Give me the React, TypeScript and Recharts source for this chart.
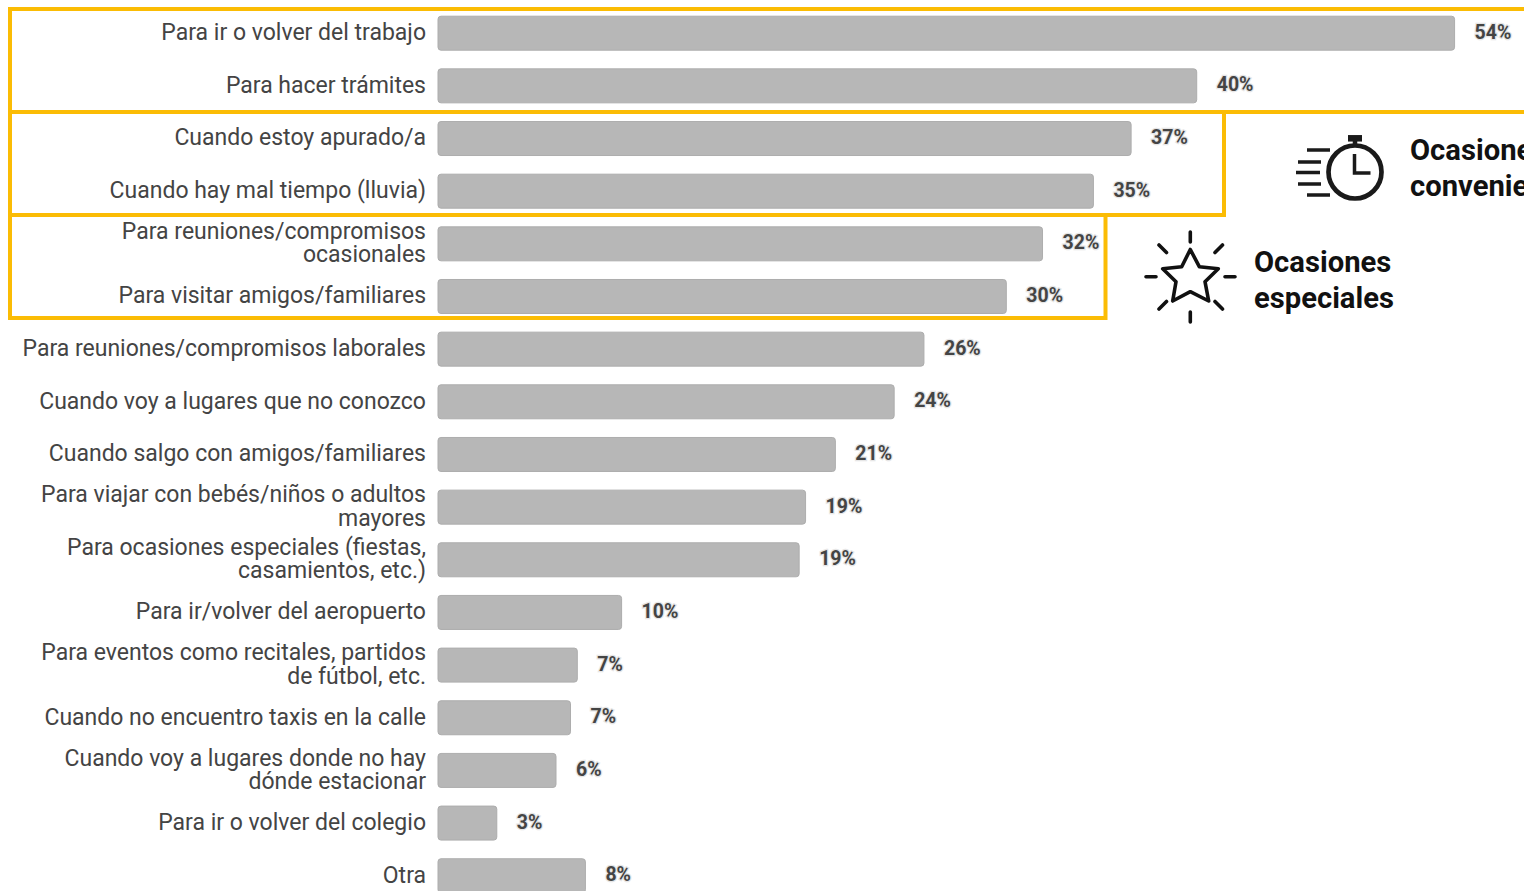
import { BarChart, Bar, XAxis, YAxis, LabelList } from "recharts";

const categories = [
  "Para ir o volver del trabajo",
  "Para hacer trámites",
  "Cuando estoy apurado/a",
  "Cuando hay mal tiempo (lluvia)",
  "Para reuniones/compromisos|ocasionales",
  "Para visitar amigos/familiares",
  "Para reuniones/compromisos laborales",
  "Cuando voy a lugares que no conozco",
  "Cuando salgo con amigos/familiares",
  "Para viajar con bebés/niños o adultos|mayores",
  "Para ocasiones especiales (fiestas,|casamientos, etc.)",
  "Para ir/volver del aeropuerto",
  "Para eventos como recitales, partidos|de fútbol, etc.",
  "Cuando no encuentro taxis en la calle",
  "Cuando voy a lugares donde no hay|dónde estacionar",
  "Para ir o volver del colegio",
  "Otra",
];
const values = [53.93, 40.25, 36.77, 34.77, 32.07, 30.15, 25.78, 24.2, 21.08, 19.5, 19.16, 9.74, 7.39, 7.03, 6.26, 3.12, 7.82];
const labels = ["54%", "40%", "37%", "35%", "32%", "30%", "26%", "24%", "21%", "19%", "19%", "10%", "7%", "7%", "6%", "3%", "8%"];

const data = categories.map((name, i) => ({ name, value: values[i], label: labels[i] }));

const FONT = "Roboto, sans-serif";
const YELLOW = "#fbbc04";

function CategoryTick({ x, y, payload }: any) {
  const lines = String(payload.value).split("|");
  const lineHeight = 23.5;
  const startY = y - ((lines.length - 1) * lineHeight) / 2 + 6.5;
  return (
    <text x={x - 0.5} y={startY} textAnchor="end" fontFamily={FONT} fontSize={23} fill="#444">
      {lines.map((line, i) => (
        <tspan key={i} x={x - 0.5} dy={i === 0 ? 0 : lineHeight}>
          {line}
        </tspan>
      ))}
    </text>
  );
}

function Overlay() {
  return (
    <svg width={1524} height={891} style={{ position: "absolute", left: 0, top: 0 }}>
      <g fill="none" stroke={YELLOW} strokeWidth={4}>
        <rect x={10} y={9} width={1530} height={103} />
        <rect x={10} y={112} width={1214} height={103} />
        <rect x={10} y={215} width={1095.5} height={103} />
      </g>
      {/* stopwatch */}
      <g fill="none" stroke="#1a1a1a">
        <circle cx={1355} cy={172} r={26.5} strokeWidth={4.7} />
        <path d="M1354.5 154V173H1370.5" strokeWidth={3.5} />
        <path d="M1355 141V147" strokeWidth={4.5} />
        <path d="M1348 138.3H1362" strokeWidth={6.5} />
        <path d="M1307 150H1330M1298 162H1321M1296 172.5H1320M1298 184H1321M1307 195H1330" strokeWidth={3.5} />
      </g>
      {/* star */}
      <g fill="none" stroke="#111" strokeWidth={3.6} strokeLinecap="round" strokeLinejoin="round">
        <path d="M1190.3 249.5L1199.3 266.7L1218.3 268.7L1205 281.7L1208.7 301L1190.3 291.7L1172.7 301L1176 281.7L1162.7 268.7L1181.7 266.7Z" />
        <path d="M1190.3 232V242M1190.3 312V322M1146 276.7H1156M1225 276.7H1235" />
        <path d="M1159 245L1166.5 252.5M1222.5 245L1215 252.5M1159 309L1166.5 301.5M1222.5 309L1215 301.5" />
      </g>
      <g fontFamily={FONT} fontSize={29.2} fontWeight={700} fill="#111">
        <text x={1410} y={160}>Ocasiones</text>
        <text x={1410} y={196}>convenientes</text>
        <text x={1254} y={272}>Ocasiones</text>
        <text x={1254} y={308}>especiales</text>
      </g>
    </svg>
  );
}

export default function App() {
  return (
    <div style={{ position: "absolute", left: 0, top: 0, width: 1524, height: 891, overflow: "hidden", background: "#fff" }}>
      <BarChart
        width={1600}
        height={911}
        data={data}
        layout="vertical"
        margin={{ top: 7.2, right: 31, bottom: 8.6, left: 0 }}
      >
        <XAxis type="number" domain={[0, 60]} hide />
        <YAxis
          type="category"
          dataKey="name"
          width={438}
          interval={0}
          axisLine={false}
          tickLine={false}
          tickSize={0}
          tickMargin={11.5}
          tick={<CategoryTick />}
        />
        <Bar dataKey="value" fill="#b7b7b7" stroke="#adadad" strokeWidth={1} barSize={34} radius={3} isAnimationActive={false}>
          <LabelList
            dataKey="label"
            position="right"
            offset={20}
            dy={-1.5}
            fontFamily={FONT}
            fontSize={19.5}
            fontWeight={700}
            fill="#444"
            stroke="#e6e6e6"
            strokeWidth={2.5}
            style={{ paintOrder: "stroke" }}
          />
        </Bar>
      </BarChart>
      <Overlay />
    </div>
  );
}
